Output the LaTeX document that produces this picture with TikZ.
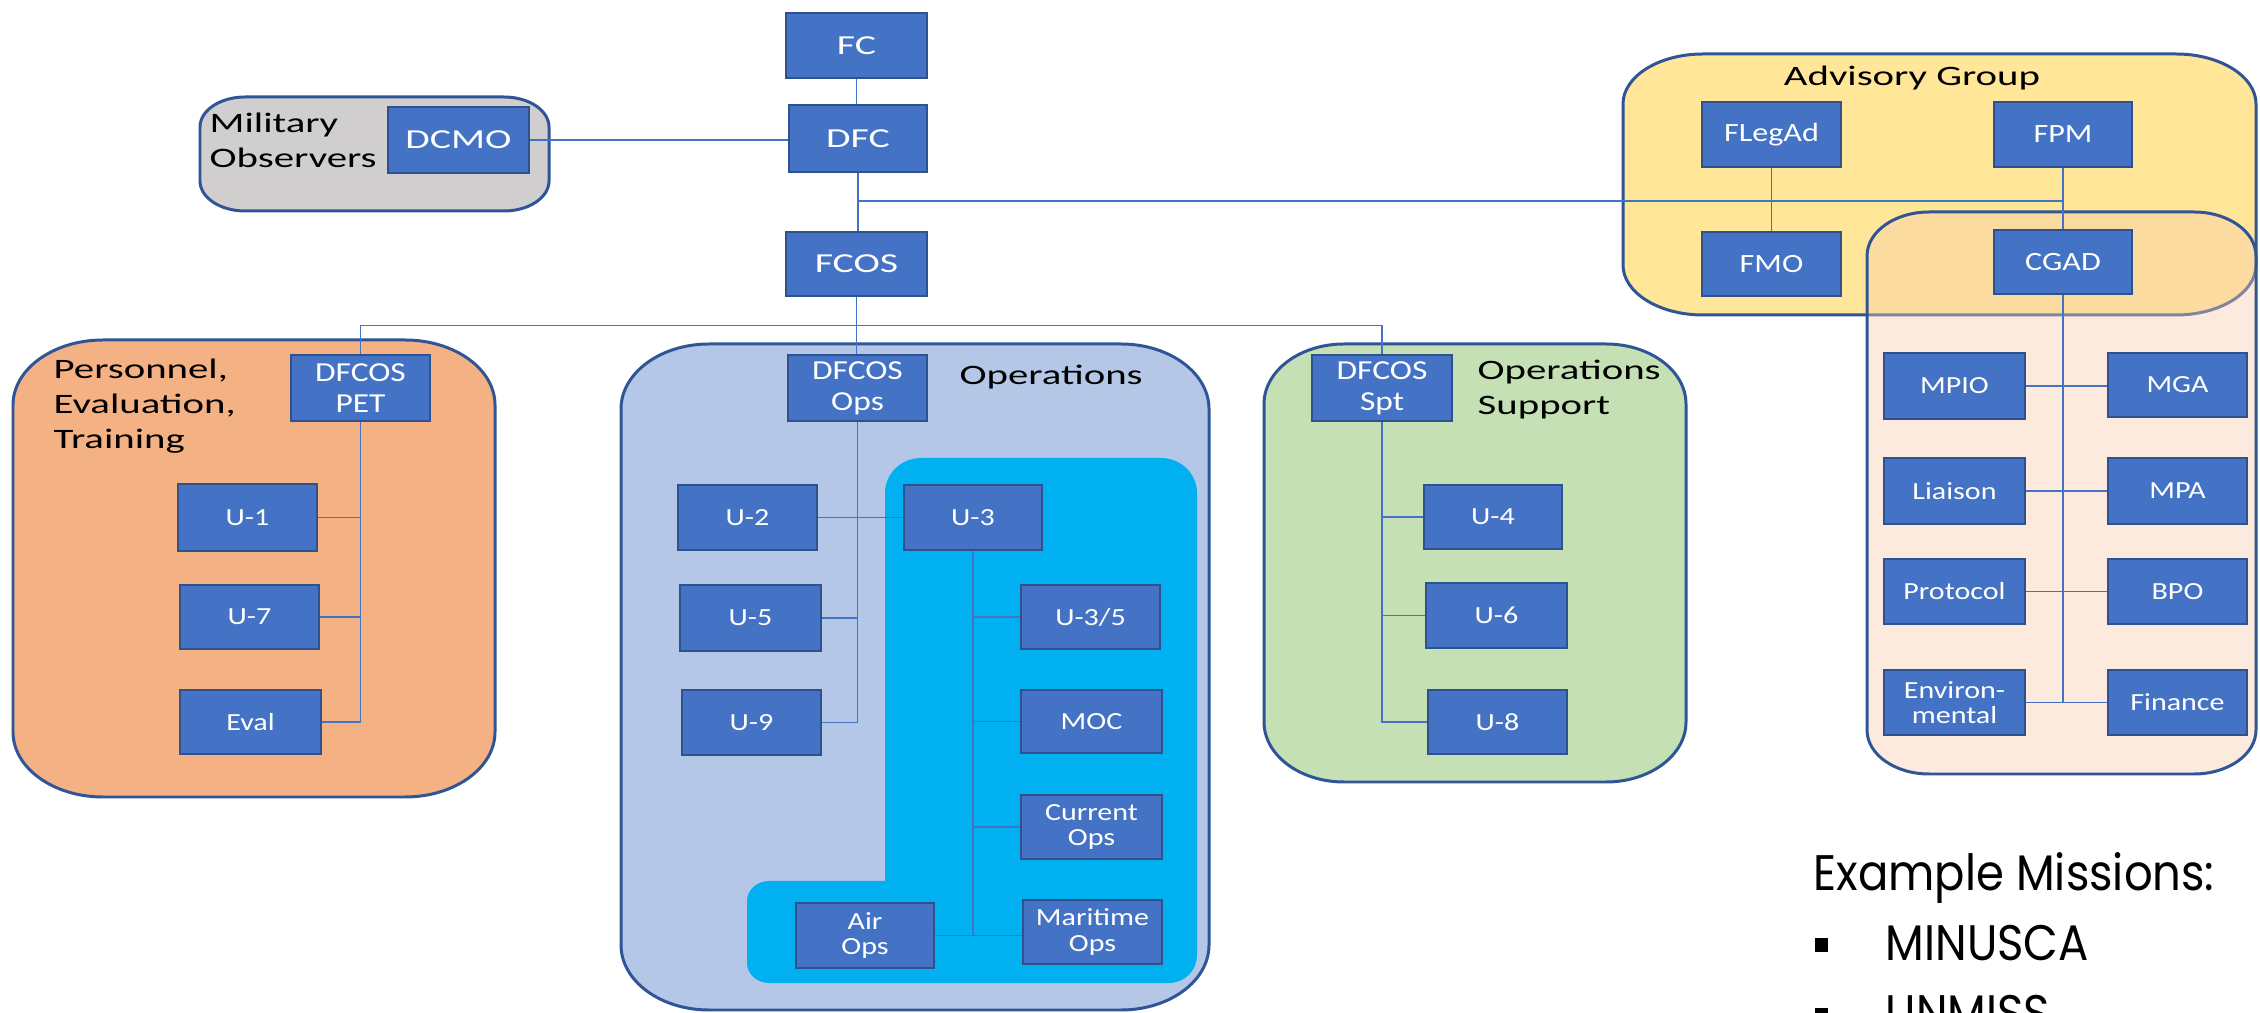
\documentclass[tikz,border=0pt]{standalone}
\usepackage{fontspec}
\setmainfont{Carlito}
\newfontfamily\fA{Carlito}[FakeStretch=1.45]
\newfontfamily\fB{Carlito}[FakeStretch=1.22]
\newfontfamily\fG{Poppins}[FakeStretch=0.9]
\definecolor{bfill}{HTML}{4472C4}
\definecolor{bdraw}{HTML}{2F528F}
\definecolor{gline}{HTML}{2F5597}
\definecolor{milc}{HTML}{D0CECE}
\definecolor{petc}{HTML}{F4B183}
\definecolor{opsc}{HTML}{B4C7E7}
\definecolor{cyanc}{HTML}{00B0F0}
\definecolor{sptc}{HTML}{C5E0B4}
\definecolor{advc}{HTML}{FFE699}
\definecolor{peachc}{HTML}{F8CBAD}
\pgfdeclarelayer{bg}
\pgfdeclarelayer{mid}
\pgfsetlayers{bg,mid,main}
\newcommand\myrr[7]{\path[#1] ({#2+#6},#3) -- ({#4-#6},#3) .. controls ({#4-0.4477*#6},#3) and (#4,{#3+0.4477*#7}) .. (#4,{#3+#7}) -- (#4,{#5-#7}) .. controls (#4,{#5-0.4477*#7}) and ({#4-0.4477*#6},#5) .. ({#4-#6},#5) -- ({#2+#6},#5) .. controls ({#2+0.4477*#6},#5) and (#2,{#5-0.4477*#7}) .. (#2,{#5-#7}) -- (#2,{#3+#7}) .. controls (#2,{#3+0.4477*#7}) and ({#2+0.4477*#6},#3) .. ({#2+#6},#3) -- cycle;}
\newcommand\mybx[7]{\node[#1, minimum width={(#5-#3)*0.01cm}, minimum height={(#6-#4)*0.01cm}] (#2) at ({(#3+#5)/2},{(#4+#6)/2}) {#7};}
\tikzset{
  ubox/.style={draw=bdraw, fill=bfill, line width=0.8pt, text=white, inner sep=0pt, align=center, font=\fB\fontsize{7}{7.3}\selectfont},
  tbox/.style={ubox, font=\fA\fontsize{7.8}{9}\selectfont},
  abox/.style={ubox, font=\fB\fontsize{7.5}{9}\selectfont},
  dbox/.style={ubox, font=\fB\fontsize{7.8}{8.8}\selectfont},
  conn/.style={draw=bfill, line width=0.5pt},
  gbox/.style={draw=gline, line width=0.85pt},
  lbl/.style={inner sep=0pt, align=left, text=black, font=\fA\fontsize{8}{10}\selectfont},
  exl/.style={inner sep=0pt, anchor=base west, text=black, font=\fG\fontsize{14.2}{16}\selectfont}
}
\begin{document}
\begin{tikzpicture}[x=0.01cm, y=-0.01cm]
\useasboundingbox (0,0) rectangle (2260,1013);
% groups
\begin{pgfonlayer}{bg}
\fill[white] (0,0) rectangle (2260,1013);
\myrr{gbox, fill=milc}{200}{97}{549}{211}{45}{30}
\myrr{gbox, fill=petc}{13}{340}{495}{797}{90}{65}
\myrr{gbox, fill=opsc}{621}{344}{1209}{1010}{88}{65}
\fill[cyanc] (885,881) -- (885,493) .. controls (885,473.7) and (901.1,458) .. (921,458) -- (1161,458) .. controls (1180.9,458) and (1197,473.7) .. (1197,493) -- (1197,955) .. controls (1197,970.5) and (1184.5,983) .. (1169,983) -- (769,983) .. controls (756.8,983) and (747,974) .. (747,963) -- (747,901) .. controls (747,890) and (756.8,881) .. (769,881) -- cycle;
\myrr{gbox, fill=sptc}{1264}{344}{1686}{782}{80}{60}
\myrr{gbox, fill=advc}{1623}{54}{2256}{315}{80}{50}
\myrr{gbox, fill=peachc, fill opacity=0.4}{1867}{212}{2256}{774}{62}{44}
\end{pgfonlayer}
% top chain
\mybx{tbox}{FC}{786}{13}{927}{78}{FC}
\mybx{tbox}{DFC}{789}{105}{927}{172}{DFC}
\mybx{tbox}{FCOS}{786}{232}{927}{296}{FCOS}
\mybx{tbox}{DCMO}{388}{107}{529}{173}{DCMO}
% advisory
\mybx{abox}{FLegAd}{1702}{102}{1841}{167}{FLegAd}
\mybx{abox}{FPM}{1994}{102}{2132}{167}{FPM}
\mybx{abox}{FMO}{1702}{232}{1841}{296}{FMO}
\mybx{abox}{CGAD}{1994}{230}{2132}{294}{CGAD}
\mybx{ubox}{MPIO}{1884}{353}{2025}{419}{MPIO}
\mybx{ubox}{MGA}{2108}{353}{2247}{417}{MGA}
\mybx{ubox}{Liaison}{1884}{458}{2025}{524}{Liaison}
\mybx{ubox}{MPA}{2108}{458}{2247}{524}{MPA}
\mybx{ubox}{Protocol}{1884}{559}{2025}{624}{Protocol}
\mybx{ubox}{BPO}{2108}{559}{2247}{624}{BPO}
\mybx{ubox}{Env}{1884}{670}{2025}{735}{Environ-\\mental}
\mybx{ubox}{Fin}{2108}{670}{2247}{735}{Finance}
% heads
\mybx{dbox}{PETh}{291}{355}{430}{421}{DFCOS\\PET}
\mybx{dbox}{OPSh}{788}{355}{927}{421}{DFCOS\\Ops}
\mybx{dbox}{SPTh}{1312}{355}{1452}{421}{DFCOS\\Spt}
% PET units
\mybx{ubox}{U1}{178}{484}{317}{551}{U-1}
\mybx{ubox}{U7}{180}{585}{319}{649}{U-7}
\mybx{ubox}{Eval}{180}{690}{321}{754}{Eval}
% Ops units
\mybx{ubox}{U2}{678}{485}{817}{550}{U-2}
\mybx{ubox}{U5}{680}{585}{821}{651}{U-5}
\mybx{ubox}{U9}{682}{690}{821}{755}{U-9}
\mybx{ubox}{U3}{904}{485}{1042}{550}{U-3}
\mybx{ubox}{U35}{1021}{585}{1160}{649}{U-3/5}
\mybx{ubox}{MOC}{1021}{690}{1162}{753}{MOC}
\mybx{ubox}{Cur}{1021}{795}{1162}{859}{Current\\Ops}
\mybx{ubox}{Mar}{1023}{900}{1162}{964}{Maritime\\Ops}
\mybx{ubox}{Air}{796}{903}{934}{968}{Air\\Ops}
% Spt units
\mybx{ubox}{U4}{1424}{485}{1562}{549}{U-4}
\mybx{ubox}{U6}{1426}{583}{1567}{648}{U-6}
\mybx{ubox}{U8}{1428}{690}{1567}{754}{U-8}
% labels (base anchor = baseline of last line)
\node[lbl, anchor=base west] (lmil) at (209,168) {Military\\Observers};
\node[lbl, anchor=base west] (lpet) at (53,449) {Personnel,\\Evaluation,\\Training};
\node[lbl, anchor=base west] (lops) at (959,385) {Operations};
\node[lbl, anchor=base west] (lspt) at (1477,415) {Operations\\Support};
\node[lbl, anchor=base] (ladv) at (1912,86) {Advisory Group};
% connectors
\coordinate (advy) at (0,201);
\begin{pgfonlayer}{mid}
\draw[conn] (FC.south) -- (FC.south |- DFC.north);
\draw[conn] (DCMO.east) -- (DCMO.east -| DFC.west);
\draw[conn] (DFC.south) -- (DFC.south |- FCOS.north);
\draw[conn] (DFC.south |- advy) -- (FPM.south |- advy);
\draw[conn] (FPM.south) -- (FPM.south |- CGAD.north);
\draw[conn] (FLegAd.south) -- (FLegAd.south |- FMO.north);
\draw[conn] (FCOS.south) -- (FCOS.south |- OPSh.north);
\draw[conn] (PETh.north) -- ++(0,-28) -| (SPTh.north);
\draw[conn] (PETh.south) |- (Eval.east);
\draw[conn] (U1.east) -- (U1.east -| PETh.south);
\draw[conn] (U7.east) -- (U7.east -| PETh.south);
\draw[conn] (OPSh.south) |- (U9.east);
\draw[conn] (U5.east) -- (U5.east -| OPSh.south);
\draw[conn] (U2.east) -- (U2.east -| U3.west);
\draw[conn] (U3.south) -- (U3.south |- Air.east);
\draw[conn] (Air.east) -- (Air.east -| Mar.west);
\draw[conn] (U35.west) -- (U35.west -| U3.south);
\draw[conn] (MOC.west) -- (MOC.west -| U3.south);
\draw[conn] (Cur.west) -- (Cur.west -| U3.south);
\draw[conn] (SPTh.south) |- (U8.west);
\draw[conn] (U4.west) -- (U4.west -| SPTh.south);
\draw[conn] (U6.west) -- (U6.west -| SPTh.south);
\draw[conn] (CGAD.south) -- (CGAD.south |- Env.east);
\draw[conn] (MPIO.east) -- (MPIO.east -| MGA.west);
\draw[conn] (Liaison.east) -- (Liaison.east -| MPA.west);
\draw[conn] (Protocol.east) -- (Protocol.east -| BPO.west);
\draw[conn] (Env.east) -- (Env.east -| Fin.west);
\end{pgfonlayer}
% example missions
\node[exl] (ex) at (1813,890) {Example Missions:};
\node[exl] (m1) at (1885,960) {MINUSCA};
\node[exl] (m2) at (1885,1030) {UNMISS};
\fill[black] (1815,938) rectangle (1828,952);
\fill[black] (1815,1008) rectangle (1828,1022);
\end{tikzpicture}
\end{document}
